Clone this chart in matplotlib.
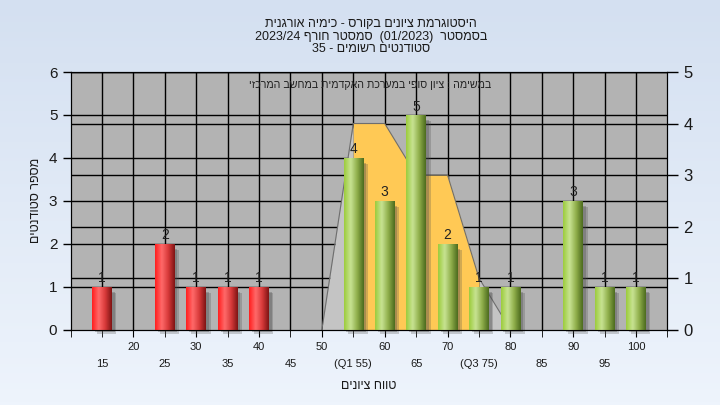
import re

import numpy as np
import matplotlib
matplotlib.use("Agg")
import matplotlib.pyplot as plt
from matplotlib.patches import Rectangle
from matplotlib.colors import LinearSegmentedColormap
from matplotlib.transforms import blended_transform_factory

plt.rcParams['font.family'] = ['Liberation Sans', 'DejaVu Sans']

# data
red_x = [15, 25, 30, 35, 40]
red_counts = [1, 2, 1, 1, 1]
green_x = [55, 60, 65, 70, 75, 80, 90, 95, 100]
green_counts = [4, 3, 5, 2, 1, 1, 3, 1, 1]

# quartile band (right axis)
area_x = [50, 55, 60, 65, 70, 75, 80]
area_y = [0, 4, 4, 3, 3, 1, 0]
q1, q3 = 55, 75

upper_ticks = [20, 30, 40, 50, 60, 70, 80, 90, 100]
lower_ticks = [15, 25, 35, 45, 55, 65, 75, 85, 95]
lower_labels = ["15", "25", "35", "45", "(Q1 55)", "65", "(Q3 75)", "85", "95"]
left_ticks = [0, 1, 2, 3, 4, 5, 6]
right_ticks = [0, 1, 2, 3, 4, 5]

title_lines = [
    "היסטוגרמת ציונים בקורס - כימיה אורגנית",
    "בסמסטר  (01/2023)  סמסטר חורף 2023/24",
    "סטודנטים רשומים - 35",
]
note_text = "במשימה : ציון סופי במערכת האקדמית במחשב המרכזי"
x_title = "טווח ציונים"
y_title = "מספר סטודנטים"


# matplotlib has no bidi, so lay the hebrew out right-to-left by hand
def rtl(s):
    r = s[::-1]
    r = re.sub(r"[0-9A-Za-z/.]+", lambda m: m.group(0)[::-1], r)
    return r.translate(str.maketrans("()", ")("))


fig = plt.figure(figsize=(7.2, 4.05), dpi=100)

# background gradient
bg = fig.add_axes([0, 0, 1, 1], zorder=-10)
bg_cmap = LinearSegmentedColormap.from_list("bg", ["#d4e0f1", "#eef4fc"])
bg.imshow(np.linspace(0, 1, 128).reshape(-1, 1), aspect="auto", cmap=bg_cmap, extent=(0, 1, 0, 1))
bg.axis("off")

ax = fig.add_axes([0.098, 0.1864, 0.829, 0.6358])
ax2 = ax.twinx()
ax.set_facecolor("#b3b3b3")
ax.set_xlim(10, 105)
ax.set_ylim(0, 6)
ax2.set_ylim(0, 5)

# grid: left-axis lines plus right-axis lines, both under the band
for v in left_ticks[1:]:
    ax.axhline(v, color="black", lw=1, zorder=0.6)
rtrans = blended_transform_factory(ax.transAxes, ax2.transData)
for v in right_ticks[1:]:
    ax.plot([0, 1], [v, v], color="black", lw=1, transform=rtrans, zorder=0.6)
for v in range(15, 105, 5):
    ax.axvline(v, color="black", lw=1, zorder=0.6)

# quartile band
ax_arr = np.array(area_x)
ay_arr = np.array(area_y)
ax.fill_between(ax_arr, ay_arr, where=ax_arr <= q1, color="#c4c4c4", lw=0, zorder=1, transform=ax2.transData)
ax.fill_between(ax_arr, ay_arr, where=ax_arr >= q3, color="#c4c4c4", lw=0, zorder=1, transform=ax2.transData)
ax.fill_between(ax_arr, ay_arr, where=(ax_arr >= q1) & (ax_arr <= q3), color="#ffc955", lw=0, zorder=1.1,
                transform=ax2.transData)
ax.plot(ax_arr, ay_arr, color="#6e6e6e", lw=0.8, zorder=1.2, transform=ax2.transData)

bar_w = 3.1
grad = np.linspace(0, 1, 64).reshape(1, -1)


def draw_bars(xs, hs, colors):
    cmap = LinearSegmentedColormap.from_list("bar", colors)
    for x, h in zip(xs, hs):
        ax.add_patch(Rectangle((x - bar_w / 2 + 0.75, -0.1), bar_w, h - 0.05, color="#4a4a4a",
                               alpha=0.25, lw=0, zorder=2, clip_on=False))
        ax.add_patch(Rectangle((x - bar_w / 2 + 0.45, -0.06), bar_w, h - 0.06, color="#4a4a4a",
                               alpha=0.3, lw=0, zorder=2, clip_on=False))
        ax.imshow(grad, extent=(x - bar_w / 2, x + bar_w / 2, 0, h), aspect="auto", cmap=cmap,
                  interpolation="bicubic", zorder=3)
        ax.annotate(str(h), (x, h), xytext=(0, 1), textcoords="offset points", ha="center", va="bottom",
                    fontsize=10, color="#222222", zorder=4)


draw_bars(red_x, red_counts, ["#ff1e1e", "#ff6a6a", "#d83a3a", "#7e1414"])
draw_bars(green_x, green_counts, ["#9ccc3c", "#c8e393", "#8fae4a", "#4c6b1e"])

ax.set_xlim(10, 105)
ax.set_ylim(0, 6)

# ticks
ax.set_yticks(left_ticks)
ax.tick_params(axis="y", labelsize=11, length=6, width=1, colors="black", labelcolor="#1a1a1a")
ax2.set_yticks(right_ticks)
ax2.tick_params(axis="y", labelsize=12, length=8, width=1, colors="black", labelcolor="#1a1a1a")

ax.set_xticks(upper_ticks)
ax.set_xticklabels([str(t) for t in upper_ticks])
ax.set_xticks([10] + lower_ticks + [105], minor=True)
ax.set_xticklabels([""] + lower_labels + [""], minor=True)
ax.tick_params(axis="x", which="major", labelsize=8, length=5, pad=4, labelcolor="#1a1a1a")
ax.tick_params(axis="x", which="minor", labelsize=8, length=5, pad=16, labelcolor="#1a1a1a")

for sp in ax.spines.values():
    sp.set_color("black")
for sp in ax2.spines.values():
    sp.set_color("black")

ax.set_xlabel(rtl(x_title), fontsize=9, labelpad=8, color="#1a1a1a")
ax.set_ylabel(rtl(y_title), fontsize=9, labelpad=5, color="#1a1a1a")

ax.text(0.502, 0.95, rtl(note_text), transform=ax.transAxes, ha="center", va="center",
        fontsize=7.7, color="#222222", zorder=5)

fig.text(0.515, 0.955, "\n".join(rtl(t) for t in title_lines), ha="center", va="top",
         fontsize=9, color="#1a1a1a", linespacing=1.05)

fig.savefig("out.png", dpi=100)
